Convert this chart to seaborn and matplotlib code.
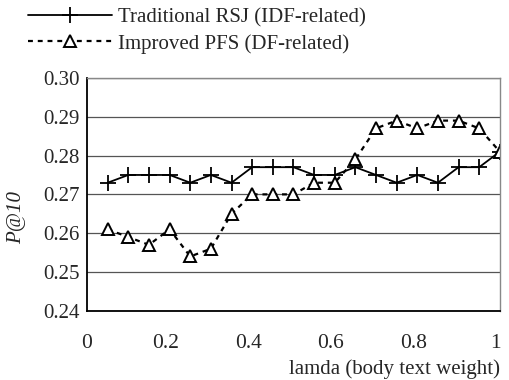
import numpy as np
import pandas as pd
import matplotlib
matplotlib.use("Agg")
import matplotlib.pyplot as plt
import matplotlib.transforms as mtransforms
import seaborn as sns

# 数据
lamda = [0.05, 0.1, 0.15, 0.2, 0.25, 0.3, 0.35, 0.4, 0.45, 0.5,
         0.55, 0.6, 0.65, 0.7, 0.75, 0.8, 0.85, 0.9, 0.95, 1.0]
rsj = [0.273, 0.275, 0.275, 0.275, 0.273, 0.275, 0.273, 0.277, 0.277, 0.277,
       0.275, 0.275, 0.277, 0.275, 0.273, 0.275, 0.273, 0.277, 0.277, 0.281]
pfs = [0.261, 0.259, 0.257, 0.261, 0.254, 0.256, 0.265, 0.270, 0.270, 0.270,
       0.273, 0.273, 0.279, 0.287, 0.289, 0.287, 0.289, 0.289, 0.287, 0.281]
label_rsj = "Traditional RSJ (IDF-related)"
label_pfs = "Improved PFS (DF-related)"
x_ticks = [0, 0.2, 0.4, 0.6, 0.8, 1]
x_ticklabels = ["0", "0.2", "0.4", "0.6", "0.8", "1"]
y_ticks = [0.24, 0.25, 0.26, 0.27, 0.28, 0.29, 0.30]

sns.set_style("white")
plt.rcParams['font.family'] = ['Liberation Serif', 'DejaVu Serif']
plt.rcParams['font.size'] = 15

fig = plt.figure(figsize=(5.09, 3.80), dpi=100)
ax = fig.add_axes([0.171, 0.182, 0.811, 0.613])

df = pd.DataFrame({"lamda": lamda, "rsj": rsj, "pfs": pfs})

sns.lineplot(data=df, x="lamda", y="rsj", ax=ax, color="black", linewidth=1.3,
             marker="+", markersize=11, markeredgewidth=1.3,
             markeredgecolor="black", label=label_rsj)
sns.lineplot(data=df, x="lamda", y="pfs", ax=ax, color="black", linewidth=1.6,
             linestyle=(0, (2.2, 2.2)), marker="^", markersize=8.5,
             markerfacecolor="white", markeredgecolor="black", markeredgewidth=1.4,
             label=label_pfs)

ax.set_xlim(0, 1)
ax.set_ylim(0.24, 0.30)
ax.set_xticks(x_ticks)
ax.set_xticklabels(x_ticklabels)
ax.set_yticks(y_ticks)
ax.set_yticklabels([f"{v:.2f}" for v in y_ticks])
ax.yaxis.grid(True, color="#555555", linewidth=0.9)
ax.tick_params(axis="x", direction="in", length=5, pad=17, labelsize=15.5)
ax.tick_params(axis="y", direction="out", length=3, width=1, pad=2, labelsize=15)
# Excel 风格：x 轴标签略微左移
shift = mtransforms.ScaledTranslation(-4 / 100, 0, fig.dpi_scale_trans)
for lbl in ax.get_xticklabels()[1:]:
    lbl.set_transform(lbl.get_transform() + shift)
for s in ["left", "bottom"]:
    ax.spines[s].set_color("black")
    ax.spines[s].set_linewidth(1.3)
for s in ["top", "right"]:
    ax.spines[s].set_color("#888888")
    ax.spines[s].set_linewidth(1.0)

ax.set_xlabel("lamda (body text weight)", fontsize=15, ha="right", va="top")
ax.xaxis.set_label_coords(1.0, -0.208)
ax.set_ylabel("P@10", fontsize=15, style="italic")
ax.yaxis.set_label_coords(-0.148, 0.4)

handles, labels = ax.get_legend_handles_labels()
ax.legend_.remove()
fig.legend(handles, labels, loc="upper left", bbox_to_anchor=(0.019, 1.028),
           frameon=False, handlelength=4.0, handletextpad=0.3, labelspacing=0.3,
           fontsize=15)

fig.savefig("out.png", dpi=100)
